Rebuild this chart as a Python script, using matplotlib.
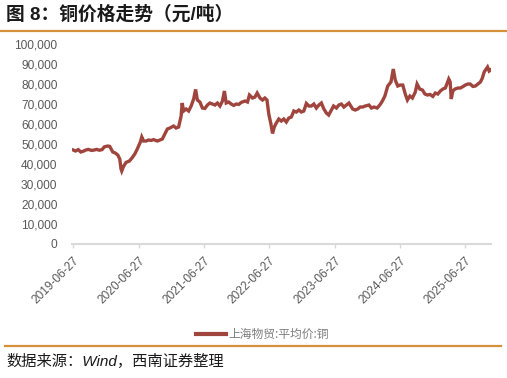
import matplotlib
matplotlib.use('Agg')
import matplotlib.pyplot as plt
from matplotlib.lines import Line2D
import pandas as pd

plt.rcParams['font.family'] = ['Liberation Sans', 'Noto Sans CJK SC', 'DejaVu Sans']
plt.rcParams['axes.unicode_minus'] = False

# 上海物贸:平均价:铜 (元/吨)
dates = [
    '2019-06-27', '2019-07-10', '2019-07-25', '2019-08-08', '2019-08-22', '2019-09-05',
    '2019-09-19', '2019-10-08', '2019-10-22', '2019-11-05', '2019-11-20', '2019-12-05',
    '2019-12-18', '2020-01-06', '2020-01-17', '2020-02-03', '2020-02-17', '2020-03-02',
    '2020-03-13', '2020-03-20', '2020-03-24', '2020-04-03', '2020-04-17', '2020-05-06',
    '2020-05-20', '2020-06-05', '2020-06-19', '2020-07-06', '2020-07-14', '2020-07-24',
    '2020-08-07', '2020-08-21', '2020-09-04', '2020-09-18', '2020-10-09', '2020-10-23',
    '2020-11-06', '2020-11-20', '2020-12-04', '2020-12-18', '2021-01-08', '2021-01-22',
    '2021-02-05', '2021-02-19', '2021-02-25', '2021-03-05', '2021-03-19', '2021-04-02',
    '2021-04-16', '2021-04-30', '2021-05-11', '2021-05-21', '2021-06-04', '2021-06-18',
    '2021-07-02', '2021-07-16', '2021-07-30', '2021-08-13', '2021-08-27', '2021-09-10',
    '2021-09-24', '2021-10-08', '2021-10-19', '2021-10-29', '2021-11-12', '2021-11-26',
    '2021-12-10', '2021-12-24', '2022-01-07', '2022-01-21', '2022-02-11', '2022-02-25',
    '2022-03-08', '2022-03-25', '2022-04-08', '2022-04-20', '2022-05-06', '2022-05-20',
    '2022-06-02', '2022-06-14', '2022-06-24', '2022-07-06', '2022-07-15', '2022-07-25',
    '2022-08-05', '2022-08-19', '2022-09-02', '2022-09-16', '2022-09-30', '2022-10-14',
    '2022-10-28', '2022-11-11', '2022-11-25', '2022-12-09', '2022-12-23', '2023-01-06',
    '2023-01-20', '2023-02-03', '2023-02-17', '2023-03-03', '2023-03-17', '2023-03-31',
    '2023-04-14', '2023-04-28', '2023-05-12', '2023-05-25', '2023-06-09', '2023-06-21',
    '2023-07-07', '2023-07-21', '2023-08-04', '2023-08-18', '2023-09-01', '2023-09-15',
    '2023-10-06', '2023-10-20', '2023-11-03', '2023-11-17', '2023-12-01', '2023-12-15',
    '2024-01-05', '2024-01-19', '2024-02-02', '2024-02-20', '2024-03-08', '2024-03-20',
    '2024-04-03', '2024-04-19', '2024-05-07', '2024-05-20', '2024-05-31', '2024-06-14',
    '2024-06-28', '2024-07-12', '2024-07-26', '2024-08-07', '2024-08-21', '2024-09-04',
    '2024-09-20', '2024-09-30', '2024-10-15', '2024-10-30', '2024-11-13', '2024-11-27',
    '2024-12-11', '2024-12-27', '2025-01-10', '2025-01-24', '2025-02-07', '2025-02-21',
    '2025-03-07', '2025-03-26', '2025-04-03', '2025-04-09', '2025-04-18', '2025-04-30',
    '2025-05-16', '2025-05-30', '2025-06-13', '2025-06-27', '2025-07-10', '2025-07-24',
    '2025-08-08', '2025-08-22', '2025-09-05', '2025-09-19', '2025-09-30', '2025-10-10',
    '2025-10-29', '2025-11-07', '2025-11-14',
]
prices = [
    47000, 46500, 47200, 46000, 46400, 47000,
    47300, 46800, 47000, 47300, 46900, 47200,
    48600, 49000, 48800, 46000, 45500, 44500,
    42500, 37500, 36500, 38800, 40800, 41500,
    43000, 45000, 47500, 51000, 53500, 51500,
    51500, 52000, 51800, 52200, 51500, 52000,
    52500, 55000, 57500, 58000, 59000, 58000,
    58500, 64000, 70500, 66500, 67500, 66500,
    69000, 72500, 77300, 72000, 71000, 68000,
    67800, 69500, 70500, 70000, 69500, 70500,
    69000, 71500, 76500, 70500, 71000, 70000,
    69300, 70000, 69800, 70800, 71500, 71000,
    74500, 73000, 73500, 75500, 73000, 72000,
    73000, 72000, 65000, 60000, 55300, 58500,
    60500, 62500, 61500, 62500, 61000, 63000,
    63500, 66500, 66000, 67000, 66000, 66500,
    70300, 69000, 69000, 70000, 68000, 69500,
    70500, 67500, 65500, 64500, 67000, 69000,
    68000, 69500, 70000, 68500, 69500, 70500,
    67500, 67000, 67500, 68500, 68500, 69000,
    69500, 68000, 68500, 68000, 69800, 71500,
    74000, 79000, 81000, 87500, 82000, 79000,
    79500, 79500, 75000, 72000, 74000, 73000,
    76000, 80000, 77500, 77000, 75000, 74500,
    74800, 73800, 75500, 75000, 76500, 77500,
    78000, 82500, 81000, 72500, 76500, 77500,
    78000, 78000, 78700, 79500, 80000, 80000,
    78800, 79000, 80000, 81000, 83000, 86000,
    88500, 86500, 87000,
]
tick_dates = ['2019-06-27', '2020-06-27', '2021-06-27', '2022-06-27',
              '2023-06-27', '2024-06-27', '2025-06-27']
series_name = '上海物贸:平均价:铜'

df = pd.DataFrame({'date': pd.to_datetime(dates), 'price': prices})

line_color = '#A0453D'
rule_color = '#D4913A'
text_gray = '#595959'

fig = plt.figure(figsize=(5.07, 3.78), dpi=100)
fig.patch.set_facecolor('white')
ax = fig.add_axes([0.142, 0.3545, 0.826, 0.529])

ax.plot(df['date'], df['price'], color=line_color, linewidth=2.4, solid_joinstyle='miter')

ax.set_ylim(0, 100000)
ax.set_yticks(range(0, 100001, 10000))
ax.yaxis.set_major_formatter(matplotlib.ticker.FuncFormatter(lambda v, p: f'{int(v):,}'))
ax.tick_params(axis='y', length=0, pad=10.5, labelsize=8.6, labelcolor=text_gray)

ax.set_xlim(pd.Timestamp('2019-06-20'), pd.Timestamp('2025-11-16'))
ax.set_xticks(pd.to_datetime(tick_dates))
ax.set_xticklabels(tick_dates, rotation=45, ha='right', rotation_mode='anchor')
ax.tick_params(axis='x', length=3, width=1, color='#D9D9D9', pad=5,
               labelsize=8.6, labelcolor=text_gray)

for s in ['top', 'right', 'left']:
    ax.spines[s].set_visible(False)
ax.spines['bottom'].set_color('#D9D9D9')
ax.spines['bottom'].set_linewidth(1.5)

# legend
handle = Line2D([], [], color=line_color, linewidth=3)
fig.legend([handle], [series_name], loc='center', bbox_to_anchor=(0.517, 0.116),
           frameon=False, handlelength=2.6, handletextpad=0.15,
           labelcolor='#7F7F7F', prop={'family': ['Noto Sans CJK SC', 'DejaVu Sans'], 'size': 8.5})

# title, rules and source
fig.text(0.012, 0.962, '图 8：铜价格走势（元/吨）', fontsize=13.5, fontweight='bold',
         color='#1A1A1A', va='center', ha='left',
         family=['Liberation Sans', 'Noto Sans CJK SC'])
fig.add_artist(Line2D([0.0, 1.0], [1 - 31 / 378, 1 - 31 / 378], color=rule_color,
                      linewidth=1.6, transform=fig.transFigure))
fig.add_artist(Line2D([0.01, 0.988], [1 - 346 / 378, 1 - 346 / 378], color=rule_color,
                      linewidth=1.6, transform=fig.transFigure))
fig.text(0.012, 1 - 361 / 378, '数据来源：Wind，西南证券整理', fontsize=11, style='italic',
         color='#1A1A1A', va='center', ha='left',
         family=['Liberation Sans', 'Noto Sans CJK SC'])

fig.savefig('out.png', dpi=100, facecolor='white')
plt.close()
